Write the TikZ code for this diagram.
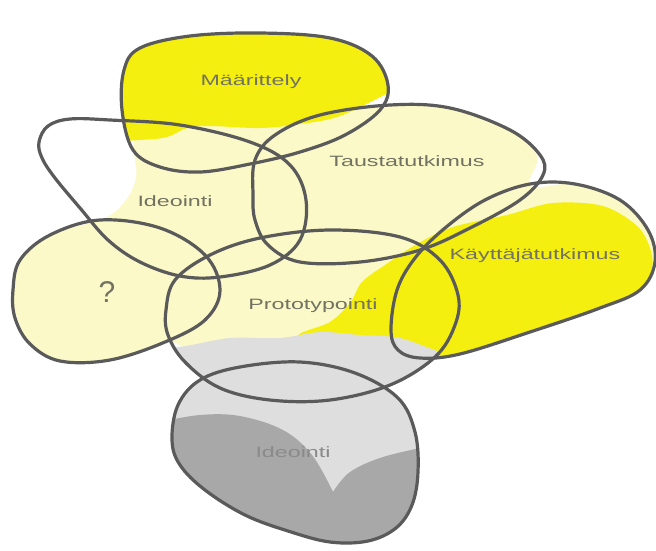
\documentclass[tikz,border=0pt]{standalone}
\usepackage{fontspec}
\setmainfont{Liberation Sans}
\definecolor{pale}{HTML}{FBF9C8}
\definecolor{bright}{HTML}{F5EF10}
\definecolor{lgray}{HTML}{DEDEDE}
\definecolor{dgray}{HTML}{A8A8A8}
\definecolor{olc}{HTML}{5A5A5A}
\definecolor{txt}{HTML}{727262}
\definecolor{txtg}{HTML}{8A8A8A}
\tikzset{
  outline/.style={draw=olc, line width=3.2pt},
  lbl/.style={text=txt, font=\fontsize{15}{15}\selectfont, anchor=base, inner sep=0pt},
  pathM/.style={insert path={plot[smooth cycle, tension=0.6] coordinates {(122,110) (124,70) (140,48) (190,36) (260,33) (330,38) (372,56) (388,85) (380,110) (345,135) (300,152) (250,164) (200,172) (160,167) (133,150)}}},
  pathT/.style={insert path={plot[smooth cycle, tension=0.6] coordinates {(253,195) (255,160) (275,135) (320,115) (390,105) (450,108) (510,130) (540,155) (543,175) (520,200) (470,228) (420,250) (360,262) (300,262) (268,245) (255,220)}}},
  pathI/.style={insert path={plot[smooth cycle, tension=0.6] coordinates {(39,142) (48,126) (70,119) (110,120) (180,125) (250,142) (290,165) (306,200) (300,240) (270,265) (220,277) (180,276) (140,262) (108,240) (80,208) (55,178) (42,158)}}},
  pathQ/.style={insert path={plot[smooth cycle, tension=0.6] coordinates {(13,290) (20,260) (50,235) (100,220) (160,228) (205,255) (220,290) (205,320) (165,342) (110,360) (60,361) (30,344) (15,318)}}},
  pathP/.style={insert path={plot[smooth cycle, tension=0.6] coordinates {(166,310) (175,280) (210,255) (260,238) (330,230) (400,237) (440,260) (458,295) (455,325) (435,357) (390,385) (330,400) (270,400) (220,388) (185,362) (168,335)}}},
  pathK/.style={insert path={plot[smooth cycle, tension=0.6] coordinates {(391,330) (397,290) (415,258) (445,228) (485,200) (530,184) (575,184) (620,200) (648,230) (655,262) (640,290) (600,308) (530,332) (460,354) (420,358) (398,350)}}},
  pathB/.style={insert path={plot[smooth cycle, tension=0.6] coordinates {(172,440) (178,405) (200,380) (240,367) (300,362) (355,373) (398,398) (415,432) (418,472) (412,505) (396,528) (368,541) (330,542) (288,531) (245,515) (205,490) (180,465)}}}
}
\begin{document}
\begin{tikzpicture}[x=1pt,y=-1pt]
\useasboundingbox (0,0) rectangle (656,550);
\fill[white] (0,0) rectangle (656,550);

% pale yellow base
\fill[pale] plot[smooth cycle, tension=0.6] coordinates {(138,130) (200,124) (260,128) (300,118) (340,110) (400,104) (455,108) (508,129) (537,156) (530,186) (575,184) (620,200) (648,232) (653,262) (640,290) (600,308) (530,332) (460,354) (420,356) (380,345) (300,340) (220,345) (188,348) (165,342) (110,360) (60,361) (30,344) (13,300) (20,260) (50,235) (100,220) (122,205) (136,178)};

% bright yellow in Maarittely
\begin{scope}
\clip[pathM];
\fill[bright] (100,0) -- (420,0) -- (420,90) -- plot[smooth, tension=0.6] coordinates {(390,92) (340,116) (300,124) (260,128) (210,126) (187,128) (167,137) (140,140) (100,142)} -- cycle;
\end{scope}

% bright yellow right
\fill[bright] plot[smooth cycle, tension=0.55] coordinates {(300,336) (330,322) (350,303) (362,282) (385,265) (417,244) (453,227) (507,215) (553,203) (603,206) (637,226) (650,248) (652,268) (640,290) (600,308) (530,332) (465,352) (440,357) (410,350) (380,340)};

% light gray (clipped to the union of P and B)
\begin{scope}
\clip[pathP] [pathB];
\fill[lgray] plot[smooth, tension=0.55] coordinates {(150,350) (186,346) (230,338) (280,338) (320,332) (360,335) (400,338) (440,352) (470,360)} -- (470,560) -- (150,560) -- cycle;
\end{scope}

% dark gray
\begin{scope}
\clip[pathB];
\fill[dgray] plot[smooth, tension=0.6] coordinates {(160,422) (200,415) (240,416) (283,430) (312,455) (333,492)} -- plot[smooth, tension=0.6] coordinates {(333,492) (350,472) (383,457) (430,446)} -- (430,560) -- (160,560) -- cycle;
\end{scope}

% outlines
\draw[outline, pathM];
\draw[outline, pathT];
\draw[outline, pathI];
\draw[outline, pathQ];
\draw[outline, pathP];
\draw[outline, pathK];
\draw[outline, pathB];

% labels
\node[lbl] (maar) at (251,85) {\scalebox{1.55}[1]{Määrittely}};
\node[lbl] (taus) at (407,166) {\scalebox{1.55}[1]{Taustatutkimus}};
\node[lbl] (ide1) at (175,206) {\scalebox{1.55}[1]{Ideointi}};
\node[lbl] (kayt) at (535,259) {\scalebox{1.55}[1]{Käyttäjätutkimus}};
\node[lbl] (proto) at (313,309) {\scalebox{1.55}[1]{Prototypointi}};
\node[lbl, text=txtg] (ide2) at (293,457) {\scalebox{1.55}[1]{Ideointi}};
\node[lbl, font=\fontsize{30}{30}\selectfont] (q) at (107,302) {?};
\end{tikzpicture}
\end{document}
